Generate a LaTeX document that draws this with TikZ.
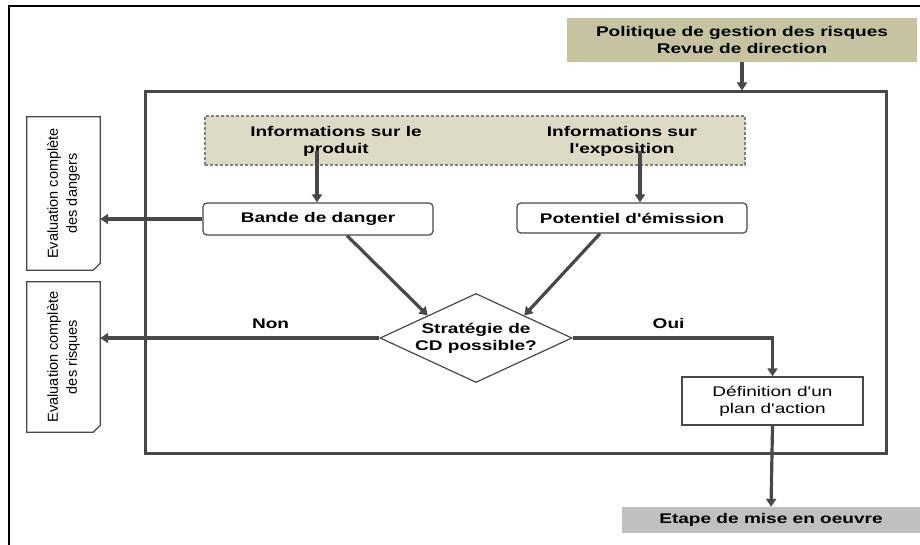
\documentclass[tikz,border=0pt]{standalone}
\usepackage{fontspec}
\setmainfont{Liberation Sans}
\newfontfamily\widefont{Liberation Sans}[FakeStretch=1.36, BoldFeatures={FakeStretch=1.36}]
\usetikzlibrary{arrows.meta,shapes.geometric,calc}
\definecolor{tanA}{RGB}{199,195,160}
\definecolor{tanB}{RGB}{221,218,198}
\definecolor{grayE}{RGB}{192,192,192}
\definecolor{lineC}{RGB}{72,72,72}
\tikzset{
  every node/.style={font=\widefont\bfseries\fontsize{14}{17}\selectfont, align=center, inner sep=0pt},
  conn/.style={draw=lineC, line width=3.2pt, -{Triangle[length=8pt,width=10pt]}},
  boxr/.style={draw=lineC, line width=1.2pt, rounded corners=4pt, fill=white},
  boxs/.style={draw=lineC, line width=1.5pt, fill=white},
  doctext/.style={font=\fontsize{14.5}{19}\selectfont, rotate=90, align=center},
}
\begin{document}
\begin{tikzpicture}[x=1pt,y=-1pt]
\useasboundingbox (0,0) rectangle (920,545);
% outer black border
\draw[black, line width=2.5pt] (9,545) -- (9,6) -- (920,6);

% top policy box
\node[fill=tanA, minimum width=350pt, minimum height=44pt] (pol) at (742,40) {Politique de gestion des risques\\Revue de direction};

% main frame
\node[draw=lineC, line width=3pt, minimum width=741pt, minimum height=361pt] (frame) at (515.5,272.5) {};

% information dashed band
\node[fill=tanB, draw=gray, line width=1.2pt, dash pattern=on 3pt off 2pt, minimum width=540pt, minimum height=49pt] (info) at (475,140.5) {};
\node (infoP) at (336,141) {Informations sur le\\produit};
\node (infoE) at (622,141) {Informations sur\\l'exposition};
\coordinate (pStart) at (317,151);
\coordinate (eStart) at (640,151);

% process boxes
\node[boxr, minimum width=230pt, minimum height=32pt] (bande) at (318,219) {Bande de danger};
\node[boxr, minimum width=230pt, minimum height=30pt] (pot) at (632,218) {Potentiel d'émission};

% decision
\node[diamond, draw=lineC, line width=1.2pt, fill=white, aspect=2.15, minimum width=192pt, minimum height=89pt] (dec) at (476,338) {Stratégie de\\CD possible?};

% action
\node[boxs, minimum width=181pt, minimum height=48pt] (def) at (772.5,401) {\mdseries Définition d'un\\\mdseries plan d'action};

% implementation
\node[fill=grayE, minimum width=298pt, minimum height=26pt] (etape) at (771,520) {Etape de mise en oeuvre};

% left documents
\node[minimum width=73pt, minimum height=153pt] (doc1) at (63.5,193.5) {};
\draw[lineC, line width=1.2pt, fill=white] (doc1.north west) -- (doc1.north east) -- ($(doc1.south east)+(0,-7)$) -- ($(doc1.south east)+(-7,0)$) -- (doc1.south west) -- cycle;
\node[doctext] at (doc1) {Evaluation complète\\des dangers};

\node[minimum width=73pt, minimum height=150pt] (doc2) at (63.5,357) {};
\draw[lineC, line width=1.2pt, fill=white] (doc2.north west) -- (doc2.north east) -- ($(doc2.south east)+(0,-7)$) -- ($(doc2.south east)+(-7,0)$) -- (doc2.south west) -- cycle;
\node[doctext] at (doc2) {Evaluation complète\\des risques};

% connectors
\draw[conn] (pol.south) -- (pol.south |- frame.north);
\draw[conn] (pStart) -- (pStart |- bande.north);
\draw[conn] (eStart) -- (eStart |- pot.north);
\draw[conn] (bande.west) -- (bande.west -| doc1.east);
\draw[conn] ($(bande.south)+(29,0)$) -- (dec.north west);
\draw[conn] ($(pot.south)+(-32,0)$) -- (dec.north east);
\draw[conn] (dec.west) -- node[pos=0.39, above=8pt] (non) {Non} (dec.west -| doc2.east);
\draw[conn] (dec.east) -| node[pos=0.24, above=8pt] (oui) {Oui} (def.north);
\draw[conn] (def.south) -- (etape.north);
\end{tikzpicture}
\end{document}
